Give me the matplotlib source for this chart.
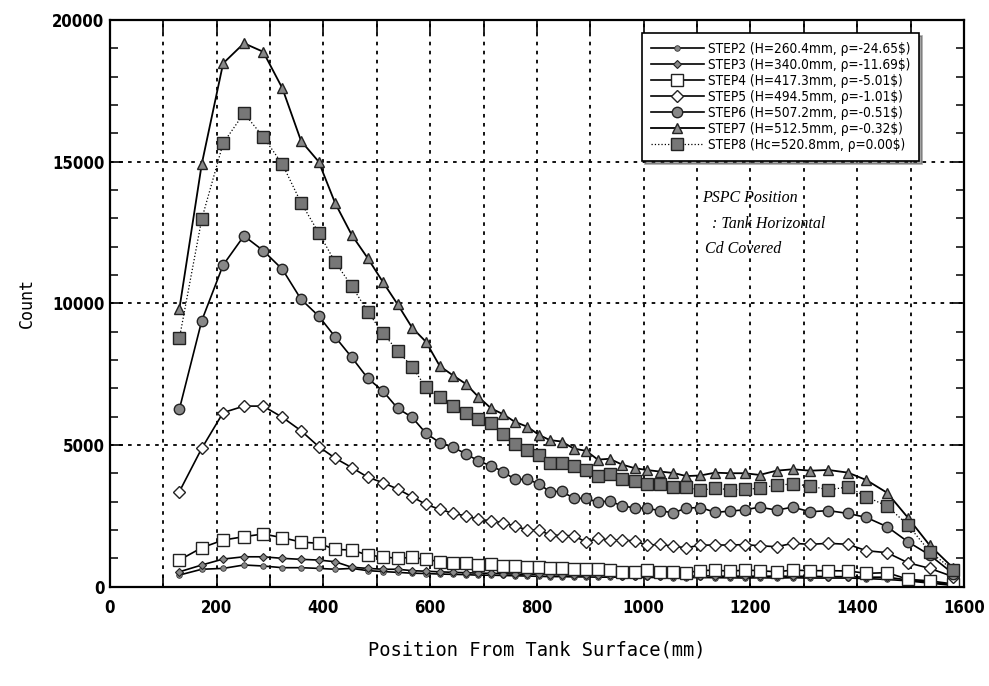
import matplotlib
matplotlib.use("Agg")
import matplotlib.pyplot as plt
from matplotlib.ticker import MultipleLocator, FuncFormatter

# detector positions (mm), shared by every step
pos = [130, 172, 212, 251, 287, 323, 358, 391, 422, 453,
       483, 511, 539, 566, 592, 618, 643, 667, 690, 714,
       737, 758, 782, 804, 824, 846, 869, 892, 914, 936,
       960, 983, 1007, 1030, 1055, 1080, 1106, 1134, 1161, 1189,
       1217, 1249, 1279, 1312, 1346, 1383, 1417, 1456, 1495, 1536,
       1580]

step2 = [405, 610, 640, 760, 725, 665, 665, 640, 610, 640,
         560, 530, 500, 470, 460, 440, 430, 420, 400, 400,
         390, 380, 370, 360, 350, 350, 340, 340, 330, 330,
         330, 320, 320, 320, 310, 310, 320, 310, 310, 300,
         310, 300, 310, 300, 300, 300, 280, 250, 200, 120,
         40]
step3 = [520, 760, 970, 1050, 1050, 995, 960, 935, 875, 680,
         640, 610, 610, 560, 540, 520, 500, 490, 470, 470,
         450, 440, 430, 430, 420, 410, 410, 400, 400, 390,
         380, 380, 380, 370, 370, 360, 380, 370, 360, 370,
         360, 370, 360, 360, 350, 350, 330, 330, 230, 150,
         60]
step4 = [935, 1370, 1640, 1760, 1855, 1725, 1570, 1525, 1310, 1290,
         1110, 1050, 995, 1030, 960, 875, 820, 840, 760, 795,
         725, 725, 700, 700, 640, 640, 610, 610, 610, 580,
         520, 520, 580, 520, 520, 490, 560, 580, 540, 580,
         560, 520, 580, 560, 560, 550, 465, 490, 255, 200,
         90]
step5 = [3350, 4880, 6140, 6370, 6370, 5975, 5500, 4940, 4530, 4200,
         3860, 3670, 3440, 3170, 2900, 2725, 2585, 2490, 2370, 2325,
         2250, 2135, 2000, 2000, 1820, 1800, 1790, 1570, 1700, 1640,
         1640, 1610, 1450, 1495, 1420, 1370, 1460, 1465, 1465, 1480,
         1440, 1405, 1525, 1490, 1525, 1490, 1265, 1195, 840, 640,
         345]
step6 = [6260, 9390, 11350, 12380, 11860, 11200, 10140, 9550, 8810, 8090,
         7350, 6910, 6290, 5975, 5410, 5080, 4915, 4680, 4440, 4255,
         4055, 3785, 3785, 3620, 3350, 3360, 3120, 3110, 2980, 3020,
         2840, 2780, 2760, 2680, 2600, 2770, 2790, 2620, 2660, 2710,
         2800, 2700, 2800, 2640, 2680, 2580, 2440, 2110, 1580, 1110,
         450]
step7 = [9800, 14920, 18470, 19180, 18880, 17590, 15730, 15000, 13530, 12410,
         11590, 10760, 9960, 9140, 8640, 7780, 7450, 7150, 6700, 6290,
         6080, 5820, 5640, 5350, 5170, 5120, 4870, 4790, 4480, 4510,
         4300, 4180, 4110, 4060, 4010, 3900, 3920, 4020, 4000, 4000,
         3940, 4090, 4140, 4090, 4115, 4020, 3760, 3310, 2430, 1450,
         650]
step8 = [8760, 12980, 15650, 16710, 15880, 14910, 13550, 12490, 11450, 10610,
         9700, 8950, 8320, 7760, 7030, 6680, 6370, 6115, 5915, 5760,
         5385, 5020, 4820, 4640, 4370, 4370, 4240, 4100, 3910, 3965,
         3780, 3740, 3630, 3630, 3520, 3510, 3400, 3470, 3420, 3430,
         3470, 3580, 3620, 3550, 3410, 3520, 3170, 2840, 2170, 1230,
         580]

labels = ["STEP2 (H=260.4mm, \u03c1=-24.65$)",
          "STEP3 (H=340.0mm, \u03c1=-11.69$)",
          "STEP4 (H=417.3mm, \u03c1=-5.01$)",
          "STEP5 (H=494.5mm, \u03c1=-1.01$)",
          "STEP6 (H=507.2mm, \u03c1=-0.51$)",
          "STEP7 (H=512.5mm, \u03c1=-0.32$)",
          "STEP8 (Hc=520.8mm, \u03c1=0.00$)"]

plt.rcParams["mathtext.default"] = "regular"

fig = plt.figure(figsize=(9.89, 6.86), dpi=100)
ax = fig.add_axes([0.1112, 0.145, 0.8635, 0.8258])

ax.plot(pos, step2, "-o", color="k", lw=1.2, ms=4, mfc="#888888", mec="#333333", mew=0.6, label=labels[0])
ax.plot(pos, step3, "-D", color="k", lw=1.2, ms=4.5, mfc="#888888", mec="#222222", mew=0.8, label=labels[1])
ax.plot(pos, step4, "-s", color="k", lw=1.2, ms=8, mfc="white", mec="#222222", mew=1.0, label=labels[2])
ax.plot(pos, step5, "-D", color="k", lw=1.2, ms=6, mfc="white", mec="#222222", mew=1.0, label=labels[3])
ax.plot(pos, step6, "-o", color="k", lw=1.2, ms=7.5, mfc="#888888", mec="#222222", mew=1.0, label=labels[4])
ax.plot(pos, step7, "-^", color="k", lw=1.3, ms=6.5, mfc="#888888", mec="#222222", mew=1.0, label=labels[5])
ax.plot(pos, step8, ":s", color="k", lw=0.9, ms=8, mfc="#777777", mec="#222222", mew=1.0, label=labels[6])

ax.set_xlim(0, 1600)
ax.set_ylim(0, 20000)
ax.xaxis.set_major_locator(MultipleLocator(100))
ax.xaxis.set_major_formatter(FuncFormatter(lambda v, p: "%d" % v if int(v) % 200 == 0 else ""))
ax.yaxis.set_major_locator(MultipleLocator(5000))
ax.yaxis.set_minor_locator(MultipleLocator(1000))
ax.tick_params(axis="both", which="major", direction="in", length=9, width=1.2,
               top=True, right=True, labelsize=12)
ax.tick_params(axis="x", pad=9)
ax.tick_params(axis="y", pad=4)
ax.tick_params(axis="y", which="minor", direction="in", length=6, width=1.1, left=True, right=True)
for lab in ax.get_xticklabels() + ax.get_yticklabels():
    lab.set_family("DejaVu Sans")
    lab.set_stretch("condensed")
    lab.set_weight("bold")

ax.grid(True, which="major", color="k", linestyle=(0, (2, 3)), linewidth=1.3)
for s in ax.spines.values():
    s.set_linewidth(1.6)

ax.set_xlabel("Position From Tank Surface(mm)", family="DejaVu Sans Mono", fontsize=13.5, labelpad=17)
ax.set_ylabel("Count", family="DejaVu Sans Mono", fontsize=12, labelpad=12)

ax.text(1109, 13720, "PSPC Position", family="Liberation Serif", style="italic", fontsize=11.5, va="center")
ax.text(1127, 12800, ": Tank Horizontal", family="Liberation Serif", style="italic", fontsize=11.5, va="center")
ax.text(1114, 11920, "Cd Covered", family="Liberation Serif", style="italic", fontsize=11.5, va="center")

leg = ax.legend(loc="upper left", bbox_to_anchor=(642 / 989, 1 - 33 / 686), bbox_transform=fig.transFigure,
                prop={"family": "DejaVu Sans", "stretch": "condensed", "size": 9.8},
                handlelength=3.9, handletextpad=0.3,
                labelspacing=0.15, borderpad=0.65, fancybox=False, shadow=True, framealpha=1,
                edgecolor="k", borderaxespad=0)
leg.get_frame().set_linewidth(1.2)

fig.savefig("out.png", dpi=100)
